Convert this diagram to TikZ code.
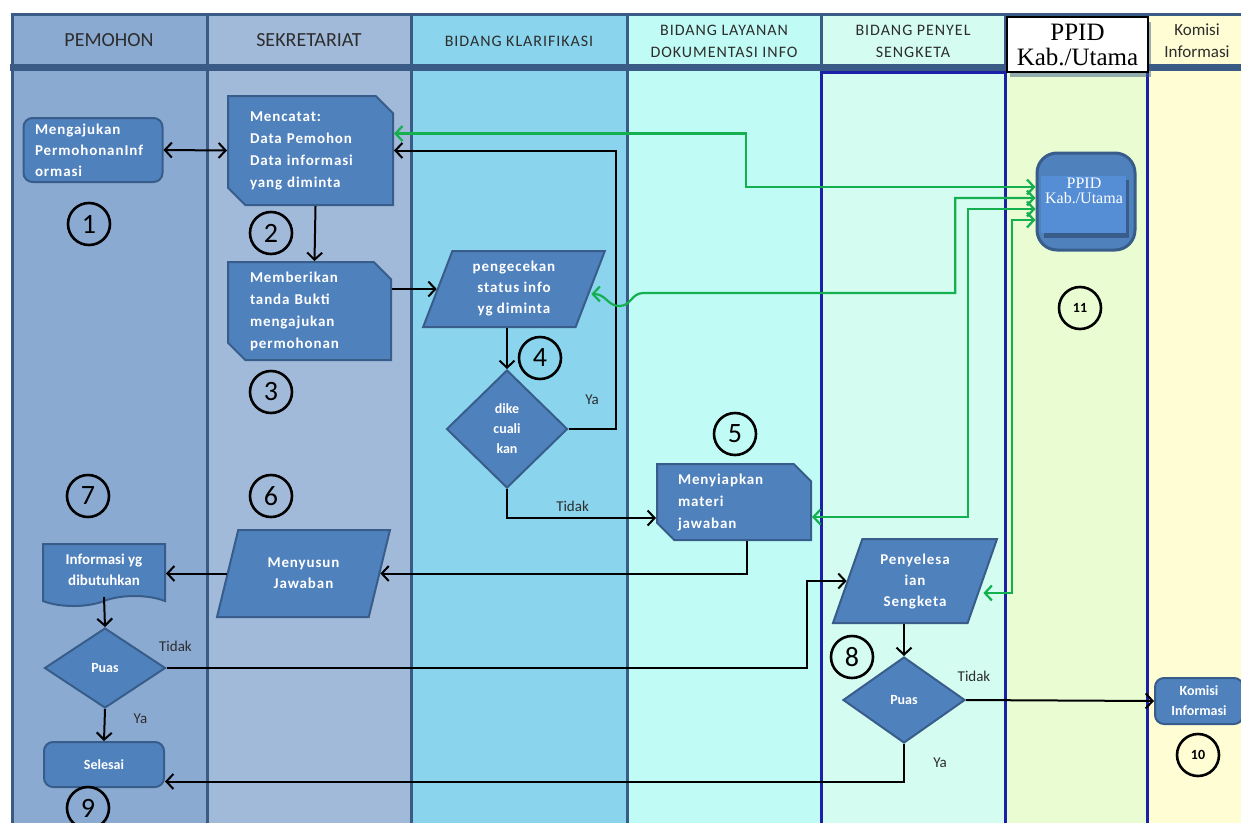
\documentclass[tikz,border=0pt]{standalone}
\usepackage{fontspec}
\setmainfont{Carlito}
\newfontfamily\tms{Liberation Serif}
\newfontfamily\spc[LetterSpace=6]{Carlito}
\usetikzlibrary{arrows.meta, calc, shadows, shapes.geometric, shapes.misc, shapes.symbols}
\definecolor{cPem}{RGB}{139,170,210}
\definecolor{cSek}{RGB}{162,186,218}
\definecolor{cKla}{RGB}{138,213,237}
\definecolor{cLay}{RGB}{192,252,245}
\definecolor{cPen}{RGB}{212,252,240}
\definecolor{cPpd}{RGB}{234,252,210}
\definecolor{cKom}{RGB}{254,253,212}
\definecolor{slate}{RGB}{59,91,135}
\definecolor{navy}{RGB}{26,32,168}
\definecolor{nfill}{RGB}{79,129,189}
\definecolor{nline}{RGB}{56,93,138}
\definecolor{ppin}{RGB}{85,142,213}
\definecolor{grn}{RGB}{20,176,80}
\definecolor{hdrtext}{RGB}{45,45,45}
\tikzset{%
    hdr/.style={text=hdrtext, align=center, font=\fontsize{20}{22}\selectfont},
    hdrs/.style={hdr, font=\spc\fontsize{16}{22}\selectfont},
    hbox/.style={draw=slate, line width=3pt},
    lsep/.style={draw=slate, line width=3pt},
    nsep/.style={draw=navy, line width=3pt},
    blo/.style={fill=nfill, draw=nline, line width=2pt, text=white, inner sep=3pt, font=\spc\bfseries\fontsize{15}{22}\selectfont},
    crd/.style={blo, chamfered rectangle, chamfered rectangle corners={north east, south west}, chamfered rectangle xsep=14pt, align=left},
    prl/.style={blo, trapezium, trapezium left angle=71, trapezium right angle=109, trapezium stretches=true, align=center},
    dia/.style={blo, diamond, align=center, inner sep=0pt, font=\bfseries\fontsize{14}{20}\selectfont},
    rnd/.style={blo, rounded corners=9pt, align=left},
    doc/.style={blo, tape, tape bend top=none, tape bend height=10pt, align=center},
    num/.style={circle, draw, line width=2.6pt, minimum size=42pt, inner sep=0pt, font=\fontsize{28}{28}\selectfont},
    nums/.style={num, font=\bfseries\fontsize{14}{14}\selectfont},
    lbl/.style={text=hdrtext, inner sep=1pt, font=\fontsize{15}{15}\selectfont},
    pria/.style={line width=2pt, -{Straight Barb[length=7pt, width=15pt]}},
    prida/.style={line width=2pt, {Straight Barb[length=7pt, width=15pt]}-{Straight Barb[length=7pt, width=15pt]}},
    grda/.style={draw=grn, line width=2.2pt, {Straight Barb[length=7pt, width=15pt]}-{Straight Barb[length=7pt, width=15pt]}},
}
\begin{document}
\begin{tikzpicture}[x=1pt, y=-1pt]
    \useasboundingbox (0,0) rectangle (1241,822);
    % swimlanes
    \foreach \xa/\xb/\cl in {12/207/cPem, 207/411/cSek, 411/627/cKla, 627/821/cLay, 821/1005/cPen, 1005/1147/cPpd, 1147/1250/cKom}
        \fill[\cl] (\xa,14) rectangle (\xb,830);
    \foreach \xa/\xb in {12/207, 207/411, 411/627, 627/821, 821/1005, 1005/1147, 1147/1250}
        \draw[hbox] (\xa,14) rectangle (\xb,66);
    \fill[slate] (10,64) rectangle (1250,71);
    \foreach \xx in {12, 207, 411, 627}
        \draw[lsep] (\xx,71) -- (\xx,830);
    \foreach \xx in {821, 1005, 1147}
        \draw[nsep] (\xx,71) -- (\xx,830);
    \draw[nsep] (821,72) -- (1005,72);
    % headers
    \node[hdr] (hpem) at (109,40) {PEMOHON};
    \node[hdr] (hsek) at (309,40) {SEKRETARIAT};
    \node[hdrs] (hkla) at (519,41) {BIDANG KLARIFIKASI};
    \node[hdrs] (hlay) at (724,41) {BIDANG LAYANAN\\DOKUMENTASI INFO};
    \node[hdrs] (hpen) at (913,41) {BIDANG PENYEL\\SENGKETA};
    \node[hdr, font=\fontsize{17}{22}\selectfont] (hkom) at (1197,41) {Komisi\\Informasi};
    \node[draw, fill=white, line width=1.5pt, minimum width=141pt, minimum height=55pt, inner sep=1pt, align=center,
          font=\tms\fontsize{25}{25}\selectfont, drop shadow={shadow xshift=3pt, shadow yshift=-5pt, fill=slate}] (hppid) at (1077.5,44.5) {PPID\\Kab./Utama};
    % process boxes
    \node[rnd, minimum width=139pt, minimum height=64pt, text width=116pt, font=\spc\bfseries\fontsize{15}{21}\selectfont] (ajukan) at (93,150) {Mengajukan\\PermohonanInf\\ormasi};
    \node[crd, minimum width=165pt, minimum height=109pt, text width=121pt] (catat) at (310.5,150.5) {Mencatat:\\Data Pemohon\\Data informasi\\yang diminta};
    \node[crd, minimum width=163pt, minimum height=98pt, text width=119pt] (beri) at (309.5,311) {Memberikan\\tanda Bukti\\mengajukan\\permohonan};
    \node[prl, minimum width=182pt, minimum height=76pt, font=\spc\bfseries\fontsize{15}{21}\selectfont] (cek) at (514,289) {pengecekan\\status info\\yg diminta};
    \node[dia, minimum width=121pt, minimum height=118pt] (dike) at (507,429) {dike\\cuali\\kan};
    \node[crd, minimum width=154pt, minimum height=76pt, text width=112pt] (siap) at (734,502) {Menyiapkan\\materi\\jawaban};
    \node[prl, minimum width=173pt, minimum height=87pt, font=\spc\bfseries\fontsize{15}{21}\selectfont] (susun) at (303.5,573.5) {Menyusun\\Jawaban};
    \node[doc, minimum width=122pt, minimum height=62pt, font=\bfseries\fontsize{15}{21}\selectfont] (info) at (104,570) {Informasi yg\\dibutuhkan};
    \node[dia, minimum width=121pt, minimum height=80pt] (puas) at (105,668) {Puas};
    \node[rnd, minimum width=120pt, minimum height=45pt, align=center, font=\bfseries\fontsize{14}{20}\selectfont] (sls) at (104,764.5) {Selesai};
    \node[prl, minimum width=164pt, minimum height=84pt, font=\spc\bfseries\fontsize{15}{21}\selectfont] (selsk) at (915,581) {Penyelesa\\ian\\Sengketa};
    \node[dia, minimum width=122pt, minimum height=86pt] (puas2) at (904,700) {Puas};
    \node[rnd, minimum width=88pt, minimum height=46pt, align=center, font=\bfseries\fontsize{14}{20}\selectfont] (kom) at (1199,701) {Komisi\\Informasi};
    % PPID box
    \node[blo, rounded corners=20pt, line width=3pt, minimum width=98pt, minimum height=97pt] (ppid) at (1086,201.5) {};
    \fill[nline] ($(ppid)+(-42,-22)$) rectangle ($(ppid)+(43,36)$);
    \fill[ppin] ($(ppid)+(-45,-26)$) rectangle ($(ppid)+(40,31)$);
    \node[text=white, align=center, font=\tms\fontsize{16}{15}\selectfont] (ppidt) at ($(ppid)+(-2,-11)$) {PPID\\Kab./Utama};
    % step numbers
    \node[num] (n1) at (89,224) {1};
    \node[num] (n2) at (271,233) {2};
    \node[num] (n3) at (271,392) {3};
    \node[num] (n4) at (540,358) {4};
    \node[num] (n5) at (735,434) {5};
    \node[num] (n6) at (271,496) {6};
    \node[num] (n7) at (88,496) {7};
    \node[num] (n8) at (852,657) {8};
    \node[num] (n9) at (88,808) {9};
    \node[nums] (n10) at (1198,755) {10};
    \node[nums] (n11) at (1080,308) {11};
    % flow
    \draw[prida] (ajukan.east) -- (catat.west);
    \draw[pria] ([xshift=5pt]catat.south) -- ([xshift=5pt]beri.north);
    \draw[pria] (beri.east |- cek.west) -- (cek.west);
    \draw[pria] (cek.south -| dike.north) -- (dike.north);
    \draw[pria] (dike.east) -- ++(47,0) node[lbl, midway, above=22pt] {Ya} |- (catat.east);
    \draw[pria] (dike.south) |- ([yshift=-16pt]siap.west) node[lbl, pos=0.72, above=4pt] {Tidak};
    \draw[pria] ([xshift=13pt]siap.south) |- (susun.east);
    \draw[pria] (susun.west) -- (susun.west -| info.east);
    \draw[pria] (info.south) -- (puas.north);
    \draw[pria] (puas.east) -- ++(640,0) node[lbl, pos=0, anchor=south, xshift=9pt, yshift=14pt] {Tidak} |- (selsk.west);
    \draw[pria] (puas.south) -- (sls.north) node[lbl, midway, xshift=36pt, yshift=6pt] {Ya};
    \draw[pria] (selsk.south -| puas2.north) -- (puas2.north);
    \draw[pria] (puas2.east) -- (kom.west) node[lbl, pos=0, anchor=south, xshift=8pt, yshift=16pt] {Tidak};
    \draw[pria] (puas2.south) |- ([yshift=-17pt]sls.east) node[lbl, pos=0.25, xshift=36pt] {Ya};
    % links to PPID
    \draw[grda] ([yshift=17pt]catat.east) -- ++(352,0) |- ([yshift=14.5pt]ppid.west);
    \draw[grda] ([yshift=-5pt]cek.east) .. controls +(15,0) and +(-12,0) .. ++(28,12) .. controls +(12,0) and +(-12,0) .. ++(24,-13) -- ++(312,0) |- ([yshift=3.5pt]ppid.west);
    \draw[grda] ([yshift=-15pt]siap.east) -- ++(156,0) |- ([yshift=-7.5pt]ppid.west);
    \draw[grda] ([yshift=-12pt]selsk.east) -- ++(29,0) |- ([yshift=-18.5pt]ppid.west);
\end{tikzpicture}
\end{document}
